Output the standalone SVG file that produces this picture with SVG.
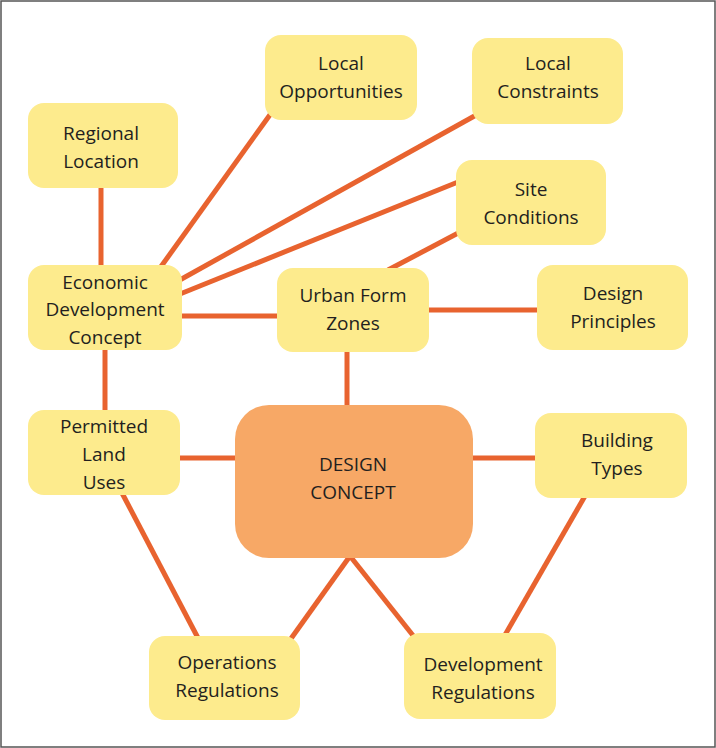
<svg xmlns="http://www.w3.org/2000/svg" width="716" height="748" viewBox="0 0 716 748">
<style>
.n{fill:#FDEB8D}
.c{fill:#F7A866}
text{font-family:"Open Sans","Liberation Sans",sans-serif;font-size:19px;fill:#231F20;text-anchor:middle}
#edges line{stroke:#E8632F;stroke-width:5}
</style>
<rect x="1" y="1" width="714" height="746" fill="#fff" stroke="#555" stroke-width="1.5"/>
<g id="edges">
<line x1="101" y1="185" x2="101" y2="268"/>
<line x1="160" y1="268" x2="272" y2="112"/>
<line x1="178" y1="281" x2="478" y2="114"/>
<line x1="180" y1="294" x2="458" y2="182"/>
<line x1="388" y1="270" x2="462" y2="231"/>
<line x1="180" y1="316" x2="279" y2="316"/>
<line x1="427" y1="310" x2="539" y2="310"/>
<line x1="347" y1="350" x2="347" y2="407"/>
<line x1="105" y1="348" x2="105" y2="412"/>
<line x1="178" y1="458" x2="237" y2="458"/>
<line x1="471" y1="458" x2="537" y2="458"/>
<line x1="122" y1="493" x2="198" y2="638"/>
<line x1="350" y1="556" x2="290" y2="640"/>
<line x1="350" y1="556" x2="415" y2="638"/>
<line x1="585" y1="496" x2="505" y2="635"/>
</g>
<g id="local-opportunities"><rect class="n" x="265" y="35" width="152" height="85" rx="16"/><text x="341" y="70">Local</text><text x="341" y="98">Opportunities</text></g>
<g id="local-constraints"><rect class="n" x="472" y="38" width="151" height="86" rx="16"/><text x="548" y="70">Local</text><text x="548" y="98">Constraints</text></g>
<g id="regional-location"><rect class="n" x="28" y="103" width="150" height="85" rx="16"/><text x="101" y="140">Regional</text><text x="101" y="168">Location</text></g>
<g id="site-conditions"><rect class="n" x="456" y="160" width="150" height="85" rx="16"/><text x="531" y="196">Site</text><text x="531" y="224">Conditions</text></g>
<g id="economic"><rect class="n" x="28" y="265" width="154" height="85" rx="16"/><text x="105" y="289">Economic</text><text x="105" y="316">Development</text><text x="105" y="344">Concept</text></g>
<g id="urban-form"><rect class="n" x="277" y="268" width="152" height="84" rx="16"/><text x="353" y="302">Urban Form</text><text x="353" y="330">Zones</text></g>
<g id="design-principles"><rect class="n" x="537" y="265" width="151" height="85" rx="16"/><text x="613" y="300">Design</text><text x="613" y="328">Principles</text></g>
<g id="permitted"><rect class="n" x="28" y="410" width="152" height="85" rx="16"/><text x="104" y="433">Permitted</text><text x="104" y="461">Land</text><text x="104" y="489">Uses</text></g>
<g id="design-concept"><rect class="c" x="235" y="405" width="238" height="153" rx="34"/><text x="353" y="471">DESIGN</text><text x="353" y="499">CONCEPT</text></g>
<g id="building-types"><rect class="n" x="535" y="413" width="152" height="85" rx="16"/><text x="617" y="447">Building</text><text x="617" y="475">Types</text></g>
<g id="operations"><rect class="n" x="149" y="636" width="151" height="84" rx="16"/><text x="227" y="669">Operations</text><text x="227" y="697">Regulations</text></g>
<g id="development"><rect class="n" x="404" y="633" width="152" height="86" rx="16"/><text x="483" y="671">Development</text><text x="483" y="699">Regulations</text></g>
</svg>
